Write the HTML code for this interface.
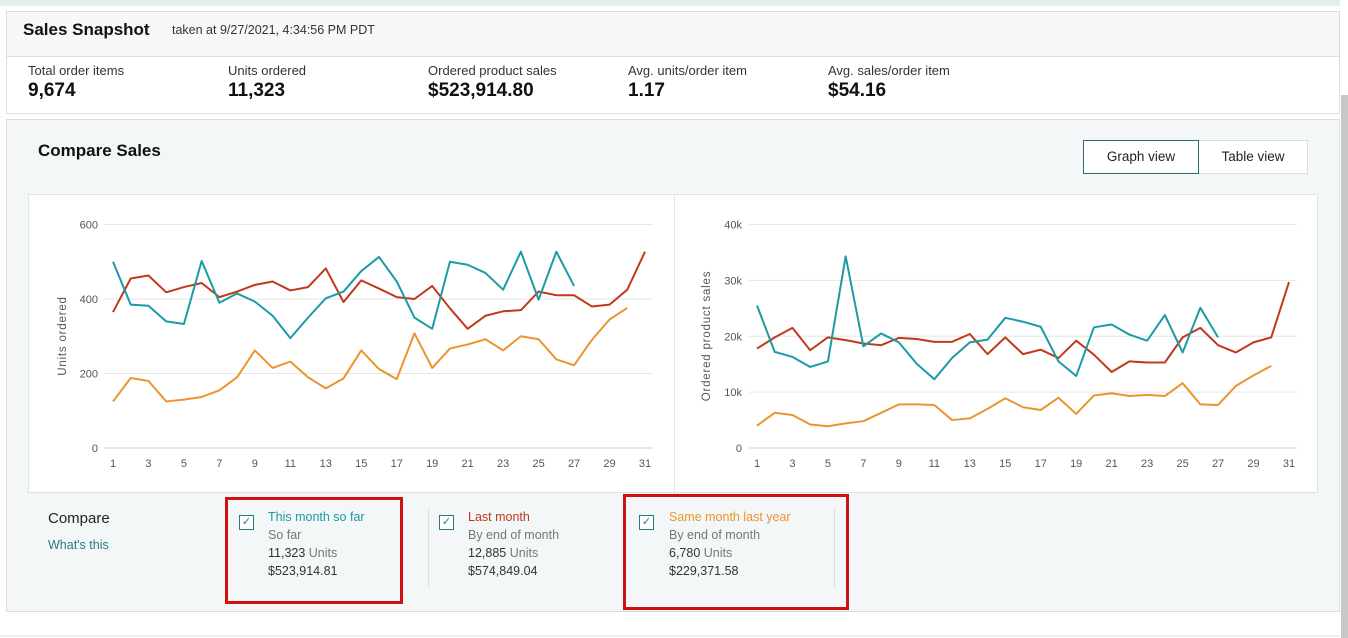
<!DOCTYPE html>
<html><head><meta charset="utf-8"><style>
body{margin:0;width:1348px;height:638px;overflow:hidden;background:#fff;font-family:"Liberation Sans",Arial,sans-serif;position:relative}
.abs{position:absolute}
.lbl{font-size:13px;color:#333}
.val{font-size:19px;font-weight:bold;color:#111}
.leg{font-size:12.5px;line-height:18px;color:#333}
.cb{width:13px;height:13px;border:1px solid #2a7a80;background:#fff;font-size:11px;line-height:13px;text-align:center;color:#2a7a80}
</style></head><body>
<div class="abs" style="left:0;top:0;width:1340px;height:6px;background:#e3eeee"></div>
<div class="abs" style="left:1341px;top:95px;width:7px;height:543px;background:#c8c8c8"></div>
<div class="abs" style="left:6px;top:11px;width:1332px;height:44px;background:#f8f8f8;border:1px solid #ddd"></div>
<div class="abs" style="left:23px;top:20px;font-size:17px;font-weight:bold;color:#111">Sales Snapshot</div>
<div class="abs" style="left:172px;top:23px;font-size:12.5px;color:#333">taken at 9/27/2021, 4:34:56 PM PDT</div>
<div class="abs" style="left:6px;top:56px;width:1332px;height:56px;background:#fff;border:1px solid #ddd"></div>
<div class="abs lbl" style="left:28px;top:63px">Total order items</div>
<div class="abs val" style="left:28px;top:80px">9,674</div>
<div class="abs lbl" style="left:228px;top:63px">Units ordered</div>
<div class="abs val" style="left:228px;top:80px">11,323</div>
<div class="abs lbl" style="left:428px;top:63px">Ordered product sales</div>
<div class="abs val" style="left:428px;top:80px">$523,914.80</div>
<div class="abs lbl" style="left:628px;top:63px">Avg. units/order item</div>
<div class="abs val" style="left:628px;top:80px">1.17</div>
<div class="abs lbl" style="left:828px;top:63px">Avg. sales/order item</div>
<div class="abs val" style="left:828px;top:80px">$54.16</div>

<div class="abs" style="left:6px;top:119px;width:1332px;height:491px;background:#f3f7f7;border:1px solid #ddd"></div>
<div class="abs" style="left:38px;top:141px;font-size:17px;font-weight:bold;color:#111">Compare Sales</div>
<div class="abs" style="left:1083px;top:140px;width:114px;height:32px;border:1px solid #2a6a70;background:#fff;font-size:13.5px;color:#222;text-align:center;line-height:32px">Graph view</div>
<div class="abs" style="left:1199px;top:140px;width:108px;height:32px;border:1px solid #ddd;border-left:none;background:#fff;font-size:13.5px;color:#222;text-align:center;line-height:32px">Table view</div>
<div class="abs" style="left:28px;top:194px;width:1290px;height:299px;background:#fff;border:1px solid #e2e2e2;box-sizing:border-box"></div>
<div class="abs" style="left:674px;top:195px;width:1px;height:297px;background:#e2e2e2"></div>
<svg class="abs" style="left:0;top:0" width="1348" height="638" id="svg"></svg>

<div class="abs" style="left:48px;top:510px;font-size:15px;color:#222">Compare</div>
<div class="abs" style="left:48px;top:538px;font-size:12.5px;color:#2a7a80">What's this</div>
<div class="abs" style="left:428px;top:508px;width:1px;height:80px;background:#ddd"></div>
<div class="abs" style="left:834px;top:508px;width:1px;height:80px;background:#ddd"></div>
<div class="abs cb" style="left:239px;top:515px">✓</div>
<div class="abs leg" style="left:268px;top:508px"><span style="color:#1c9aa6">This month so far</span><br><span style="color:#777">So far</span><br>11,323 <span style="color:#777">Units</span><br>$523,914.81</div>
<div class="abs cb" style="left:439px;top:515px">✓</div>
<div class="abs leg" style="left:468px;top:508px"><span style="color:#c0391b">Last month</span><br><span style="color:#777">By end of month</span><br>12,885 <span style="color:#777">Units</span><br>$574,849.04</div>
<div class="abs cb" style="left:639px;top:515px">✓</div>
<div class="abs leg" style="left:669px;top:508px"><span style="color:#ec9430">Same month last year</span><br><span style="color:#777">By end of month</span><br>6,780 <span style="color:#777">Units</span><br>$229,371.58</div>
<div class="abs" style="left:225px;top:497px;width:172px;height:101px;border:3px solid #d01010"></div>
<div class="abs" style="left:623px;top:494px;width:220px;height:110px;border:3px solid #d01010"></div>
<div class="abs" style="left:0;top:635px;width:1340px;height:2px;background:#eee"></div>

<script>
const days=[1,2,3,4,5,6,7,8,9,10,11,12,13,14,15,16,17,18,19,20,21,22,23,24,25,26,27,28,29,30,31];
const xTicks=[1,3,5,7,9,11,13,15,17,19,21,23,25,27,29,31];
const unitTicks=[0,200,400,600];
const unitTickLabels=["0","200","400","600"];
const salesTicks=[0,10000,20000,30000,40000];
const salesTickLabels=["0","10k","20k","30k","40k"];
const unitsThis=[500,385,382,340,333,502,390,415,393,355,295,350,402,420,475,513,447,350,320,500,492,470,425,527,398,527,435];
const unitsLast=[365,455,463,418,432,443,405,420,438,447,423,432,482,392,450,428,405,400,435,375,320,355,367,370,420,410,410,380,385,425,527];
const unitsYear=[125,188,180,125,130,137,155,190,262,215,232,190,160,187,262,212,185,308,215,267,278,292,262,300,292,238,222,290,345,376];
const salesThis=[25500,17200,16300,14500,15500,34300,18200,20500,18900,15100,12300,16100,18900,19400,23300,22600,21700,15500,12900,21600,22100,20300,19200,23800,17100,25100,19800];
const salesLast=[17800,19800,21500,17500,19800,19300,18700,18400,19700,19500,19000,19000,20400,16800,19800,16800,17600,16100,19200,16700,13600,15500,15300,15300,19800,21500,18400,17100,18900,19800,29700];
const salesYear=[4000,6300,5900,4200,3900,4400,4800,6300,7800,7800,7700,5000,5300,7000,8900,7300,6800,9000,6100,9400,9800,9300,9500,9300,11600,7800,7700,11100,13000,14700];
const colors={this:"#1c9aa6",last:"#c0391b",year:"#ec9430"};
const NS="http://www.w3.org/2000/svg";
const svg=document.getElementById('svg');
function mk(t,a){const e=document.createElementNS(NS,t);for(const k in a)e.setAttribute(k,a[k]);svg.appendChild(e);return e;}
function chart(name,x0,x1,yMax,ticks,tickLabels,title,series){
  const xs=d=>x0+(d-1)*(x1-x0)/30;
  const ys=v=>448-v*(448-224.5)/yMax;
  ticks.forEach((t,i)=>{
    const g=mk('line',{x1:x0-8,x2:x1+8,y1:ys(t),y2:ys(t),stroke:t===0?'#ccc':'#e6e6e6','stroke-width':1});
    
    
    const l=mk('text',{x:x0-15,y:ys(t)+4,'text-anchor':'end','font-size':11,fill:'#555','font-family':'Liberation Sans,sans-serif'});
    l.textContent=tickLabels[i];
    
    
  });
  xTicks.forEach(d=>{
    const l=mk('text',{x:xs(d),y:467,'text-anchor':'middle','font-size':11,fill:'#555','font-family':'Liberation Sans,sans-serif'});
    l.textContent=d;
    
    
  });
  const cy=336, tx=x0-47;
  const tt=mk('text',{x:tx,y:cy,'text-anchor':'middle','font-size':11.5,fill:'#555','font-family':'Liberation Sans,sans-serif','letter-spacing':'0.8',transform:`rotate(-90 ${tx} ${cy})`});
  tt.textContent=title;
  
  
  series.forEach(s=>{
    const p=mk('polyline',{points:s.v.map((v,i)=>xs(days[i])+','+ys(v)).join(' '),fill:'none',stroke:s.c,'stroke-width':2,'stroke-linejoin':'round'});
    
    
  });
}
chart('units-chart',113,645,600,unitTicks,unitTickLabels,'Units ordered',[{n:'last-year',v:unitsYear,c:colors.year},{n:'last-month',v:unitsLast,c:colors.last},{n:'this-month',v:unitsThis,c:colors.this}]);
chart('sales-chart',757,1289,40000,salesTicks,salesTickLabels,'Ordered product sales',[{n:'last-year',v:salesYear,c:colors.year},{n:'last-month',v:salesLast,c:colors.last},{n:'this-month',v:salesThis,c:colors.this}]);
</script>
</body></html>
